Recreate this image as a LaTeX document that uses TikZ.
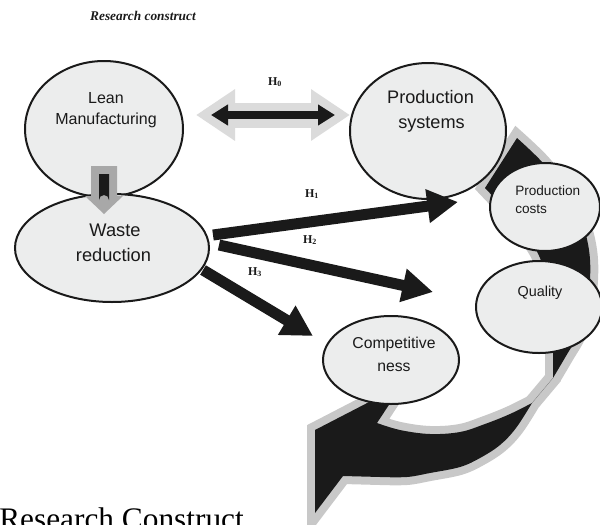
\documentclass[tikz,border=0pt]{standalone}
\usepackage{fontspec}
\setmainfont{Liberation Sans}
\newfontfamily\serifface{Liberation Serif}
\usetikzlibrary{shapes.geometric,arrows.meta}

\definecolor{bubblefill}{RGB}{236,237,237}
\definecolor{ink}{RGB}{26,26,26}
\definecolor{rim}{RGB}{200,200,200}
\definecolor{haze}{RGB}{219,219,219}
\definecolor{steel}{RGB}{168,168,168}

\begin{document}
\begin{tikzpicture}[x=0.75pt,y=-0.75pt,
  bubble/.style={ellipse, draw=ink, line width=1.5pt, fill=bubblefill, inner sep=0pt},
  txt/.style={inner sep=0pt, anchor=base, text=ink},
  hlab/.style={inner sep=0pt, anchor=base, text=ink, font=\serifface\bfseries\fontsize{9}{10}\selectfont},
  hyp/.style={draw=ink, line width=8.25pt, -{Triangle[length=23pt,width=24pt]}},
]
\useasboundingbox (0,0) rectangle (600,525);

% large curved arrow (twisted ribbon) behind the outcome bubbles
\fill[ink, line join=miter, preaction={draw=rim, line width=12pt, line join=miter}]
  plot[smooth, tension=0.6] coordinates {(517,138) (543,163) (565,192) (581,220) (589,250) (590,280) (586,310) (578,335) (566,356) (553,378)}
  -- (532,403)
  -- plot[smooth, tension=0.6] coordinates {(532,403) (516,428) (500,445) (480,458) (460,467) (430,473) (407,477) (380,477)}
  -- (343,476) -- (315,513) -- (315,430) -- (402,385) -- (377,423)
  -- plot[smooth, tension=0.6] coordinates {(377,423) (400,430) (430,434) (460,432) (485,424) (510,414) (532,403)}
  -- (553,378)
  -- plot[smooth, tension=0.6] coordinates {(553,378) (553,345) (551,315) (547,285) (540,258) (528,238) (510,215) (485,188)}
  -- cycle;

% bubbles
\node[bubble, minimum width=118.5pt, minimum height=102pt] (lean) at (104,129) {};
\node[bubble, minimum width=145.5pt, minimum height=81pt] (waste) at (112,248) {};
\node[bubble, minimum width=117pt, minimum height=102pt] (prodsys) at (428,131) {};
\node[bubble, minimum width=82.5pt, minimum height=66pt] (costs) at (545,207) {};
\node[bubble, minimum width=94.5pt, minimum height=69pt] (quality) at (539,307) {};
\node[bubble, minimum width=102pt, minimum height=66pt] (compet) at (391,360) {};

% block arrow from Lean Manufacturing down to Waste reduction
\fill[steel] (91,166) -- (117,166) -- (117,196) -- (123,196) -- (104,214) -- (85,196) -- (91,196) -- cycle;
\fill[ink] (99,174) -- (109,174) -- (109,200) arc[start angle=0, end angle=180, x radius=5, y radius=-5] -- cycle;

% H0: two-way arrow between Lean Manufacturing and Production systems
\coordinate (h0l) at (196,115);
\coordinate (h0r) at (350,115);
\coordinate (h0il) at (211,115);
\coordinate (h0ir) at (335,115);
\draw[haze, line width=18.75pt, {Triangle[length=29.25pt,width=36.75pt]}-{Triangle[length=29.25pt,width=36.75pt]}] (h0l) -- (h0r);
\draw[ink, line width=6pt, {Triangle[length=12.75pt,width=15pt]}-{Triangle[length=12.75pt,width=15pt]}] (h0il) -- (h0ir);

% H1 - H3 from Waste reduction
\coordinate (h1s) at (213,235);
\coordinate (h1e) at (458,202);
\coordinate (h2s) at (219,245);
\coordinate (h2e) at (433,292);
\coordinate (h3s) at (203,270);
\coordinate (h3e) at (313,336);
\draw[hyp] (h1s) -- (h1e);
\draw[hyp] (h2s) -- (h2e);
\draw[hyp] (h3s) -- (h3e);

% hypothesis labels
\node[hlab] (lh0) at (275,85) {H\textsubscript{0}};
\node[hlab] (lh1) at (312,197) {H\textsubscript{1}};
\node[hlab] (lh2) at (310,243) {H\textsubscript{2}};
\node[hlab] (lh3) at (255,275) {H\textsubscript{3}};

% bubble texts
\node[txt, font=\fontsize{12}{14}\selectfont] (t1) at (106,103) {Lean};
\node[txt, font=\fontsize{12}{14}\selectfont] (t2) at (106,124) {Manufacturing};
\node[txt, font=\fontsize{13.7}{16}\selectfont] (t3) at (115,236) {Waste};
\node[txt, font=\fontsize{13.7}{16}\selectfont] (t4) at (113.5,261) {reduction};
\node[txt, font=\fontsize{13.6}{16}\selectfont] (t5) at (430.5,103) {Production};
\node[txt, font=\fontsize{13.6}{16}\selectfont] (t6) at (431.5,128) {systems};
\node[txt, anchor=base west, font=\fontsize{10.2}{12}\selectfont] (t7) at (515,195) {Production};
\node[txt, anchor=base west, font=\fontsize{10.2}{12}\selectfont] (t8) at (515,213) {costs};
\node[txt, font=\fontsize{10.8}{13}\selectfont] (t9) at (540,296) {Quality};
\node[txt, font=\fontsize{11.8}{14}\selectfont] (t10) at (394,348) {Competitive};
\node[txt, font=\fontsize{11.8}{14}\selectfont] (t11) at (394,371) {ness};

% headings
\node[txt, font=\serifface\bfseries\itshape\fontsize{10}{12}\selectfont] (title) at (143,20) {Research construct};
\node[txt, anchor=base west, text=black, font=\serifface\fontsize{23.5}{28}\selectfont] (caption) at (-1,529) {Research Construct};
\end{tikzpicture}
\end{document}
